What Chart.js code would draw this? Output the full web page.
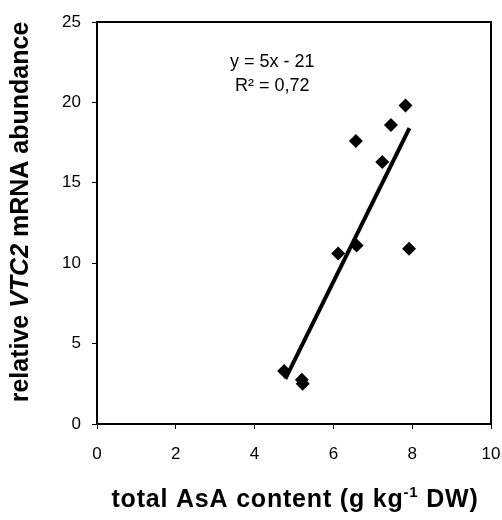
<!DOCTYPE html>
<html><head><meta charset="utf-8">
<script src="https://cdn.jsdelivr.net/npm/chart.js@4"></script>
<style>html,body{margin:0;padding:0;background:#fff;overflow:hidden}#c{display:block}</style>
</head><body><canvas id="c" width="502" height="520"></canvas>
<script>
// Data
const asaContent    = [7.83, 7.46, 6.57, 7.24, 7.92, 6.59, 6.12, 4.75, 5.20, 5.22];
const vtc2Abundance = [19.8, 18.6, 17.6, 16.3, 10.9, 11.1, 10.6, 3.3, 2.75, 2.5];
const trendX = [4.78, 7.93];
const trendY = [2.8, 18.4];
const xTicks = [0, 2, 4, 6, 8, 10];
const yTicks = [0, 5, 10, 15, 20, 25];
const equationLines = ['y = 5x - 21', 'R² = 0,72'];
const xTitleParts = ['total AsA content (g kg', '-1', ' DW)'];
const yTitleParts = ['relative ', 'VTC2', ' mRNA abundance'];

const FONT = '"Liberation Sans", Arial, sans-serif';

const framePlugin = {
  id: 'frame',
  beforeDatasetsDraw(chart) {
    const {ctx, chartArea: a} = chart;
    ctx.save();
    ctx.strokeStyle = '#000';
    ctx.lineWidth = 2;
    ctx.strokeRect(a.left, a.top, a.right - a.left, a.bottom - a.top);
    ctx.restore();
  },
  afterDraw(chart) {
    const {ctx, chartArea: a, scales} = chart;
    ctx.save();
    ctx.fillStyle = '#000';
    // equation text
    ctx.font = '18px ' + FONT;
    ctx.textAlign = 'center';
    ctx.textBaseline = 'middle';
    const ex = scales.x.getPixelForValue(4.45);
    ctx.fillText(equationLines[0], ex, scales.y.getPixelForValue(22.5));
    ctx.fillText(equationLines[1], ex, scales.y.getPixelForValue(21.0));

    // x title
    const big = 'bold 25px ' + FONT, small = 'bold 15px ' + FONT;
    ctx.textAlign = 'left';
    ctx.textBaseline = 'alphabetic';
    ctx.letterSpacing = '0.8px';
    ctx.font = big; const w0 = ctx.measureText(xTitleParts[0]).width;
    ctx.font = small; const w1 = ctx.measureText(xTitleParts[1]).width;
    ctx.font = big; const w2 = ctx.measureText(xTitleParts[2]).width;
    const tw = w0 + w1 + w2;
    let x0 = 295 - tw / 2;
    const by = 507;
    ctx.font = big; ctx.fillText(xTitleParts[0], x0, by);
    ctx.font = small; ctx.fillText(xTitleParts[1], x0 + w0, by - 10);
    ctx.font = big; ctx.fillText(xTitleParts[2], x0 + w0 + w1, by);
    ctx.letterSpacing = '0px';

    // y title (rotated)
    const ital = 'italic bold 25px ' + FONT;
    ctx.font = big; const v0 = ctx.measureText(yTitleParts[0]).width;
    ctx.font = ital; const v1 = ctx.measureText(yTitleParts[1]).width;
    ctx.font = big; const v2 = ctx.measureText(yTitleParts[2]).width;
    const vw = v0 + v1 + v2;
    ctx.translate(28, 212);
    ctx.rotate(-Math.PI / 2);
    let s = -vw / 2;
    ctx.font = big; ctx.fillText(yTitleParts[0], s, 0);
    ctx.font = ital; ctx.fillText(yTitleParts[1], s + v0, 0);
    ctx.font = big; ctx.fillText(yTitleParts[2], s + v0 + v1, 0);
    ctx.restore();
  }
};

new Chart(document.getElementById('c'), {
  type: 'scatter',
  data: {
    datasets: [
      {
        label: 'data',
        data: asaContent.map((x, i) => ({x, y: vtc2Abundance[i]})),
        pointStyle: 'rectRot',
        pointRadius: 7,
        pointHoverRadius: 7,
        backgroundColor: '#000',
        borderColor: '#000',
        borderWidth: 0
      },
      {
        label: 'trend',
        type: 'line',
        data: trendX.map((x, i) => ({x, y: trendY[i]})),
        borderColor: '#000',
        borderWidth: 4,
        pointRadius: 0,
        fill: false
      }
    ]
  },
  options: {
    responsive: false,
    maintainAspectRatio: false,
    animation: false,
    devicePixelRatio: 1,
    layout: {autoPadding: false, padding: {left: 0, top: 22, right: 11, bottom: 0}},
    plugins: {legend: {display: false}, tooltip: {enabled: false}},
    scales: {
      x: {
        type: 'linear', min: 0, max: 10,
        afterBuildTicks(sc) { sc.ticks = xTicks.map(v => ({value: v})); },
        afterFit(sc) { sc.height = 96; sc.paddingRight = 0; sc.paddingLeft = 0; },
        border: {display: false},
        grid: {drawOnChartArea: false, drawTicks: true, tickLength: 5, color: '#000', tickColor: '#000'},
        ticks: {color: '#000', font: {family: FONT, size: 17}, padding: 15, maxRotation: 0}
      },
      y: {
        type: 'linear', min: 0, max: 25,
        afterBuildTicks(sc) { sc.ticks = yTicks.map(v => ({value: v})); },
        afterFit(sc) { sc.width = 97; },
        border: {display: false},
        grid: {drawOnChartArea: false, drawTicks: true, tickLength: 5, color: '#000', tickColor: '#000'},
        ticks: {color: '#000', font: {family: FONT, size: 17}, padding: 11}
      }
    }
  },
  plugins: [framePlugin]
});
</script>
</body></html>
